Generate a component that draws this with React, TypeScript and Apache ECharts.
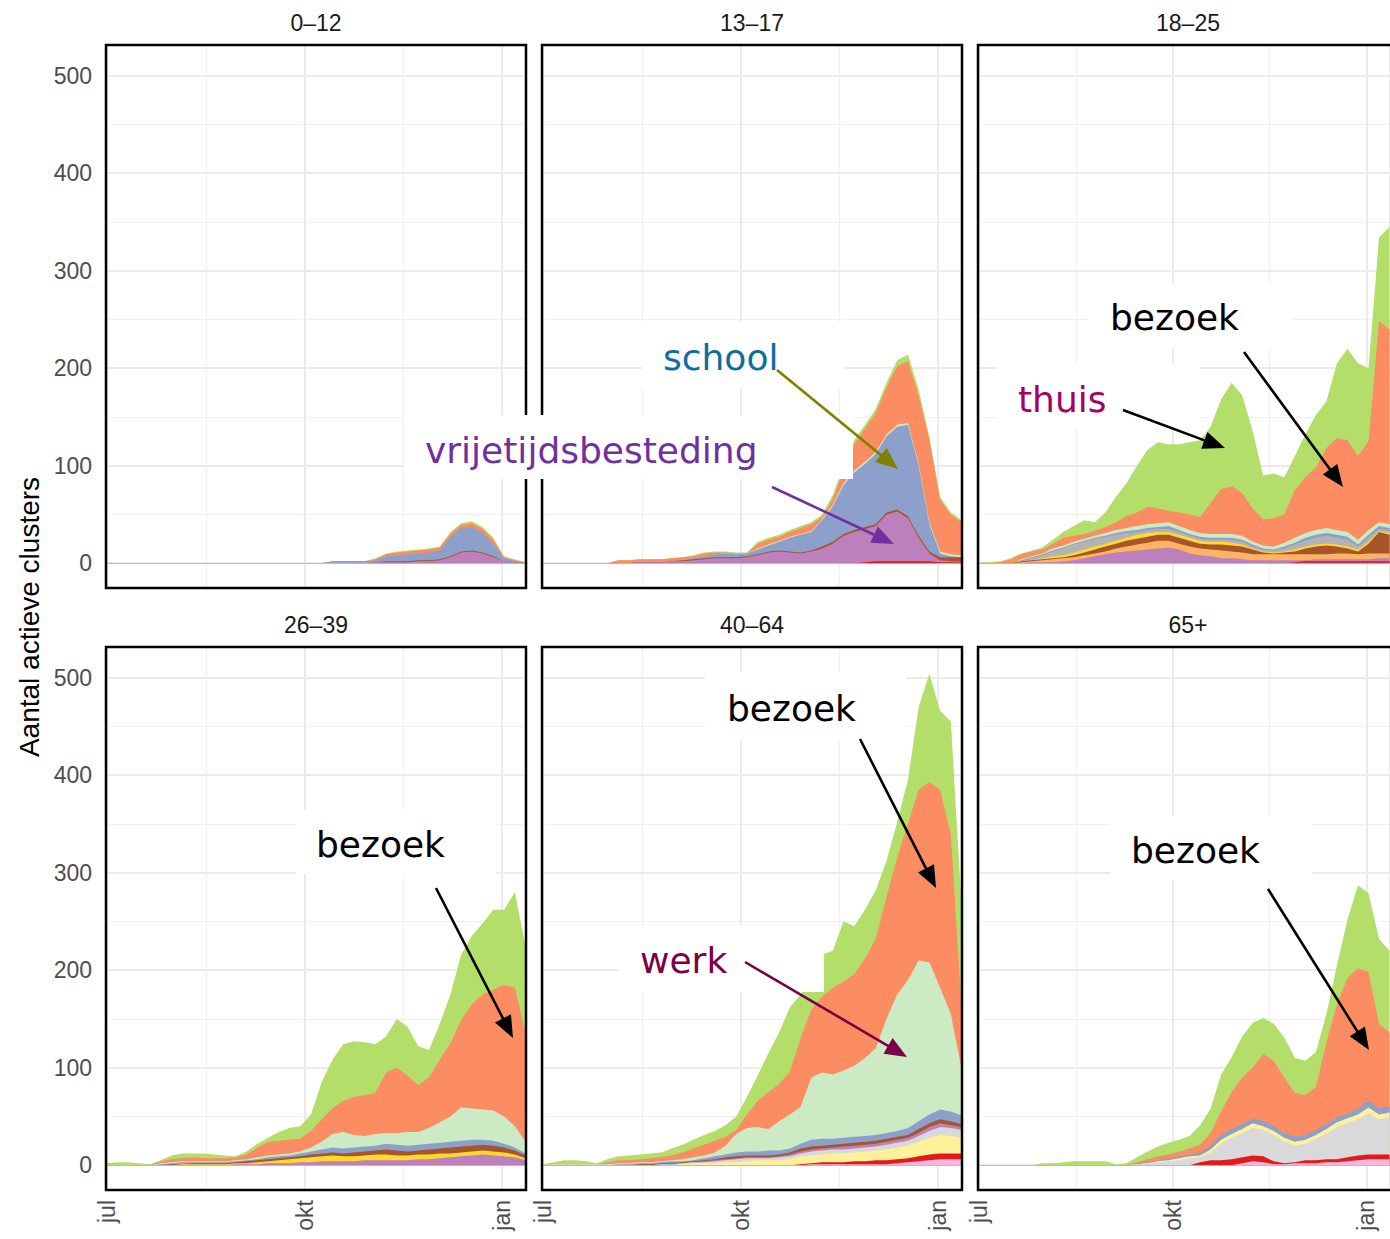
import React, { useEffect, useRef } from 'react';
import * as echarts from 'echarts';

// x values: days since 1 July
const DAYS = [0,5,10,15,20,25,30,35,40,45,50,55,60,65,70,75,80,85,90,95,100,105,110,115,120,125,130,135,140,145,150,155,160,165,170,175,180,185,190,195];
const X_TICK_DAYS = [0, 92, 184];
const X_TICK_LABELS = ['jul', 'okt', 'jan'];
const PANEL_TITLES = ['0–12', '13–17', '18–25', '26–39', '40–64', '65+'];
const Y_TITLE = 'Aantal actieve clusters';

// Cumulative stacked levels (top edge of each layer)
// 0–12
const p1_thuis = [0,0,0,0,0,0,0,0,0,0,0,0,0,0,0,0,0,0,0,0,0,2,2,2,2,5,10,12,13,14,15,17,32,41,43,37,26,7,4,1];
const p1_bezoek = [0,0,0,0,0,0,0,0,0,0,0,0,0,0,0,0,0,0,0,0,0,2,2,2,2,4,9,11,12,13,14,16,30,39,41,35,24,6,3,1];
const p1_school = [0,0,0,0,0,0,0,0,0,0,0,0,0,0,0,0,0,0,0,0,0,2,2,2,2,3,7,8,9,10,11,13,27,36,37,31,20,5,2,0];
const p1_sport = [0,0,0,0,0,0,0,0,0,0,0,0,0,0,0,0,0,0,0,0,0,0,0,0,0,1,2,2,2,3,3,4,7,12,13,11,7,2,1,0];
const p1_vrij = [0,0,0,0,0,0,0,0,0,0,0,0,0,0,0,0,0,0,0,0,0,0,0,0,0,1,1,1,1,2,2,3,6,11,12,10,6,2,1,0];

// 13–17
const p2_thuis = [0,0,0,0,0,0,0,3,3,4,4,4,5,6,8,11,12,12,11,11,22,26,29,34,38,42,50,70,100,126,142,158,185,208,214,178,130,68,52,44];
const p2_bezoek = [0,0,0,0,0,0,0,3,3,4,4,4,5,6,7,10,11,11,10,10,20,24,27,32,36,40,47,66,96,122,138,154,180,202,207,172,126,65,50,42];
const p2_werk = [0,0,0,0,0,0,0,0,0,0,0,0,0,3,5,7,9,10,9,10,15,19,23,27,30,33,45,60,82,95,104,114,132,142,144,102,42,12,9,8];
const p2_school = [0,0,0,0,0,0,0,0,0,0,0,0,0,3,5,7,9,10,9,10,14,18,22,26,29,32,44,58,80,93,102,112,130,140,142,100,40,10,7,6];
const p2_sport = [0,0,0,0,0,0,0,0,0,1,1,1,2,3,4,5,6,6,6,7,9,12,13,12,11,13,17,22,30,34,37,40,52,55,48,28,12,6,6,6];
const p2_vrij = [0,0,0,0,0,0,0,0,0,1,1,1,2,2,3,4,5,5,5,6,8,11,12,11,10,12,15,20,28,32,35,38,50,53,46,26,10,3,2,2];
const p2_ziekenhuis = [0,0,0,0,0,0,0,0,0,0,0,0,0,0,0,0,0,0,0,0,0,0,0,0,0,0,0,0,0,0,1,2,2,2,2,2,2,1,1,1];

// 18–25
const p3_thuis = [1,1,2,5,10,13,16,24,32,38,44,42,52,68,82,100,116,124,122,122,124,126,140,168,185,172,135,90,92,88,110,132,152,166,205,220,205,200,334,345];
const p3_bezoek = [0,0,1,4,9,12,14,20,26,28,30,33,37,42,48,52,58,56,54,52,50,47,62,76,79,72,56,45,46,50,75,88,98,118,128,126,110,125,248,240];
const p3_werk = [0,0,0,0,4,7,10,15,18,22,25,28,31,34,36,38,40,41,42,38,34,31,30,30,30,28,22,18,17,21,26,31,34,36,34,32,24,34,42,40];
const p3_school = [0,0,0,0,3,6,9,13,16,20,23,26,28,31,33,34,36,37,38,34,30,27,26,26,26,24,19,15,14,17,21,26,29,31,29,27,19,29,38,36];
const p3_student = [0,0,0,0,2,5,8,12,15,19,22,25,27,29,31,32,34,35,35,32,28,25,24,24,24,22,17,14,13,15,19,23,26,28,26,24,17,26,35,33];
const p3_horeca = [0,0,0,0,2,3,5,7,8,11,14,17,20,23,26,29,31,32,32,29,26,23,22,22,21,19,15,12,11,12,14,17,19,20,19,17,14,22,33,31];
const p3_sport = [0,0,0,0,2,3,4,5,6,8,11,14,17,20,23,25,27,29,29,26,23,20,19,19,18,17,14,11,10,11,12,15,17,18,17,15,12,20,32,29];
const p3_zorg = [0,0,0,0,1,2,3,4,5,6,8,10,12,15,17,19,21,23,23,20,17,15,14,13,12,11,9,9,9,9,9,9,9,9,10,10,9,10,10,10];
const p3_vrij = [0,0,0,0,0,1,1,1,2,3,5,7,9,11,12,13,14,15,16,14,10,8,7,5,5,4,3,3,3,3,3,3,4,4,4,4,4,4,5,5];
const p3_ziekenhuis = [0,0,0,0,0,0,0,0,0,0,0,0,0,0,0,0,0,0,0,0,0,0,0,0,0,0,0,0,0,0,1,2,2,2,2,2,2,2,2,2];

// 26–39
const p4_thuis = [2,3,3,2,1,5,10,12,12,12,11,10,9,14,22,28,34,38,40,52,85,108,124,127,126,124,132,150,142,122,118,145,175,216,235,248,262,262,280,224];
const p4_bezoek = [0,0,0,0,0,4,6,7,8,7,7,7,8,11,18,24,25,26,27,35,47,58,66,70,72,74,95,100,92,82,90,108,125,149,165,175,180,185,182,136];
const p4_werk = [0,0,0,0,0,2,3,4,4,4,4,4,5,6,8,10,11,12,14,18,24,32,34,31,30,32,33,33,34,34,38,44,50,59,58,57,56,50,40,24];
const p4_school = [0,0,0,0,0,1,2,3,3,3,3,3,4,5,6,8,9,10,12,14,16,18,17,18,19,20,22,21,20,21,22,23,24,25,26,26,25,22,18,12];
const p4_sport = [0,0,0,0,0,0,1,1,2,2,2,2,3,4,5,6,7,8,9,11,12,13,12,13,14,15,16,15,14,15,16,17,18,19,20,21,20,18,15,10];
const p4_horeca = [0,0,0,0,0,0,0,1,1,1,1,1,2,2,3,4,5,6,7,8,9,10,9,9,10,11,11,10,10,11,11,12,12,13,14,15,14,13,11,7];
const p4_vrij = [0,0,0,0,0,0,0,0,0,0,0,0,1,1,1,2,2,2,3,3,4,4,4,4,5,5,5,5,5,6,6,7,8,9,10,11,10,9,8,5];

// 40–64
const p5_thuis = [1,3,5,5,4,2,6,9,10,11,12,13,17,21,26,31,35,41,50,70,92,115,136,162,175,190,216,220,250,245,262,282,312,352,395,470,504,466,455,266];
const p5_bezoek = [0,1,1,1,1,1,3,5,5,6,7,8,10,13,17,21,25,29,36,52,66,75,83,96,130,160,173,182,188,196,212,232,275,315,350,385,393,385,340,161];
const p5_werk = [0,1,1,1,1,1,1,2,2,3,3,4,5,6,8,10,13,20,32,38,39,37,45,52,60,90,95,93,97,102,110,120,150,175,190,210,208,182,155,99];
const p5_school = [0,0,0,0,0,0,0,1,1,2,2,3,4,4,5,7,9,11,13,14,14,15,15,17,22,26,27,27,28,29,30,31,33,35,38,45,52,57,55,51];
const p5_sport = [0,0,0,0,0,0,0,0,0,1,1,2,2,3,4,5,6,8,9,10,10,10,11,13,17,19,20,21,22,23,24,25,27,29,31,37,43,47,45,42];
const p5_vrij = [0,0,0,0,0,0,0,0,0,0,0,1,1,2,3,4,5,6,7,8,8,8,9,11,14,16,17,18,19,20,21,22,24,26,28,33,39,43,41,39];
const p5_verpleeg = [0,0,0,0,0,0,0,0,0,0,0,1,1,2,3,3,4,5,6,7,7,7,8,9,12,14,15,16,16,17,18,19,21,23,25,30,35,39,38,36];
const p5_overig = [0,0,0,0,0,0,0,0,0,0,0,0,0,1,2,2,2,3,3,4,5,5,5,6,9,10,11,12,12,13,14,15,16,18,20,24,28,31,30,28];
const p5_ziekenhuis = [0,0,0,0,0,0,0,0,0,0,0,0,0,0,0,0,0,0,0,0,0,0,0,0,1,2,3,3,3,4,4,5,5,6,7,9,11,12,12,12];
const p5_gezondheid = [0,0,0,0,0,0,0,0,0,0,0,0,0,0,0,0,0,0,0,0,0,0,0,0,0,1,1,1,1,1,1,1,1,2,3,4,5,6,6,6];

// 65+
const p6_thuis = [0,0,0,0,0,0,2,2,3,4,4,4,4,1,2,8,14,19,23,26,30,41,58,93,111,132,146,151,145,131,110,107,116,155,205,252,287,279,232,220];
const p6_bezoek = [0,0,0,0,0,0,0,0,0,0,0,0,0,0,0,3,6,9,11,14,17,21,33,55,75,90,100,114,107,90,74,72,80,126,165,192,202,198,145,136];
const p6_school = [0,0,0,0,0,0,0,0,0,0,0,0,0,0,0,2,3,5,7,9,11,13,20,31,37,42,48,45,40,33,29,31,36,42,49,53,58,66,58,60];
const p6_overig = [0,0,0,0,0,0,0,0,0,0,0,0,0,0,0,1,2,4,5,7,9,10,16,26,32,37,43,40,35,28,24,26,31,37,44,48,52,59,52,54];
const p6_verpleeg = [0,0,0,0,0,0,0,0,0,0,0,0,0,0,0,1,2,3,4,5,7,8,13,22,28,33,38,36,31,24,20,22,27,32,39,43,47,53,47,49];
const p6_ziekenhuis = [0,0,0,0,0,0,0,0,0,0,0,0,0,0,0,0,0,0,0,0,0,3,5,5,6,8,10,9,4,2,3,5,5,6,6,8,10,11,11,11];
const p6_gezondheid = [0,0,0,0,0,0,0,0,0,0,0,0,0,0,0,0,0,0,0,0,0,0,0,0,0,2,4,3,1,1,2,2,2,3,3,4,5,6,6,6];

const COLORS: Record<string, string> = {
  thuis: '#b3de69',
  bezoek: '#fc8d62',
  werk: '#ccebc5',
  school: '#8da0cb',
  studentenhuis: '#b3b3b3',
  horeca: '#ffd92f',
  sport: '#a65628',
  zorg: '#fdb462',
  vrijetijdsbesteding: '#bc80bd',
  verpleeghuis: '#d9d9d9',
  overig: '#fff09a',
  ziekenhuis: '#e31a1c',
  gezondheidszorg: '#f7b6dc',
};

// layers ordered from top of stack to bottom
const PANELS: [string, number[]][][] = [
  [['thuis', p1_thuis], ['bezoek', p1_bezoek], ['school', p1_school], ['sport', p1_sport], ['vrijetijdsbesteding', p1_vrij]],
  [['thuis', p2_thuis], ['bezoek', p2_bezoek], ['werk', p2_werk], ['school', p2_school], ['sport', p2_sport], ['vrijetijdsbesteding', p2_vrij], ['ziekenhuis', p2_ziekenhuis]],
  [['thuis', p3_thuis], ['bezoek', p3_bezoek], ['werk', p3_werk], ['school', p3_school], ['studentenhuis', p3_student], ['horeca', p3_horeca], ['sport', p3_sport], ['zorg', p3_zorg], ['vrijetijdsbesteding', p3_vrij], ['ziekenhuis', p3_ziekenhuis]],
  [['thuis', p4_thuis], ['bezoek', p4_bezoek], ['werk', p4_werk], ['school', p4_school], ['sport', p4_sport], ['horeca', p4_horeca], ['vrijetijdsbesteding', p4_vrij]],
  [['thuis', p5_thuis], ['bezoek', p5_bezoek], ['werk', p5_werk], ['school', p5_school], ['sport', p5_sport], ['vrijetijdsbesteding', p5_vrij], ['verpleeghuis', p5_verpleeg], ['overig', p5_overig], ['ziekenhuis', p5_ziekenhuis], ['gezondheidszorg', p5_gezondheid]],
  [['thuis', p6_thuis], ['bezoek', p6_bezoek], ['school', p6_school], ['overig', p6_overig], ['verpleeghuis', p6_verpleeg], ['ziekenhuis', p6_ziekenhuis], ['gezondheidszorg', p6_gezondheid]],
];

const ANNOTATIONS = [
  { text: 'school', color: '#0b6e9c', box: [642, 322, 203, 66], tx: 663, ty: 357, arrow: [777, 370, 898, 469], arrowColor: '#7f7f00' },
  { text: 'vrijetijdsbesteding', color: '#7030a0', box: [404, 415, 449, 64], tx: 425, ty: 450, arrow: [772, 487, 894, 544], arrowColor: '#7030a0' },
  { text: 'thuis', color: '#a50065', box: [997, 364, 203, 65], tx: 1018, ty: 399, arrow: [1123, 410, 1225, 448], arrowColor: '#000000' },
  { text: 'bezoek', color: '#000000', box: [1088, 283, 204, 66], tx: 1110, ty: 317, arrow: [1244, 352, 1343, 487], arrowColor: '#000000' },
  { text: 'bezoek', color: '#000000', box: [296, 810, 200, 64], tx: 316, ty: 844, arrow: [436, 888, 513, 1038], arrowColor: '#000000' },
  { text: 'bezoek', color: '#000000', box: [705, 672, 201, 68], tx: 727, ty: 708, arrow: [860, 739, 936, 888], arrowColor: '#000000' },
  { text: 'werk', color: '#7b0046', box: [618, 926, 206, 66], tx: 640, ty: 960, arrow: [745, 962, 907, 1057], arrowColor: '#7b0046' },
  { text: 'bezoek', color: '#000000', box: [1110, 815, 202, 65], tx: 1131, ty: 850, arrow: [1268, 889, 1369, 1050], arrowColor: '#000000' },
];

const PANEL_LEFT = [106, 542, 978];
const PANEL_TOP = [45, 647];
const PANEL_W = 420;
const PANEL_H = 543;
const X_MIN = -0.5, X_MAX = 195.2;
const Y_MIN = -25.5, Y_MAX = 531.5;
const SANS = '"Liberation Sans", Arial, sans-serif';
const ANNO_FONT = '"DejaVu Sans", Verdana, sans-serif';

function arrowEls(x1: number, y1: number, x2: number, y2: number, color: string) {
  const dx = x2 - x1, dy = y2 - y1;
  const len = Math.hypot(dx, dy);
  const ux = dx / len, uy = dy / len;
  const L = 22, W = 9;
  const bx = x2 - ux * L, by = y2 - uy * L;
  return [
    { type: 'line', z: 102, shape: { x1, y1, x2: bx + ux * 3, y2: by + uy * 3 }, style: { stroke: color, lineWidth: 2.6 } },
    { type: 'polygon', z: 102, shape: { points: [[x2, y2], [bx - uy * W, by + ux * W], [bx + uy * W, by - ux * W]] }, style: { fill: color } },
  ];
}

export default function App() {
  const ref = useRef<HTMLDivElement>(null);
  useEffect(() => {
    if (!ref.current) return;
    const chart = echarts.init(ref.current, null, { renderer: 'svg' });
    const grid: any[] = [];
    const xAxis: any[] = [];
    const yAxis: any[] = [];
    const series: any[] = [];
    const graphic: any[] = [];

    PANELS.forEach((layers, i) => {
      const col = i % 3;
      const row = Math.floor(i / 3);
      const left = PANEL_LEFT[col];
      const top = PANEL_TOP[row];
      grid.push({ left, top, width: PANEL_W, height: PANEL_H, containLabel: false });
      // minor grid axis
      xAxis.push({
        gridIndex: i, type: 'value', min: X_MIN, max: X_MAX, minInterval: 46, maxInterval: 46, position: 'bottom',
        axisLine: { show: false }, axisTick: { show: false }, axisLabel: { show: false },
        splitLine: { show: true, lineStyle: { color: '#f0f0f0', width: 1.2 } },
      });
      // major axis with labels
      xAxis.push({
        gridIndex: i, type: 'value', min: X_MIN, max: X_MAX, minInterval: 92, maxInterval: 92, position: 'bottom',
        axisLine: { show: false }, axisTick: { show: false },
        axisLabel: {
          show: row === 1, rotate: 90, margin: 10, fontSize: 23, color: '#4d4d4d', fontFamily: SANS,
          showMinLabel: false, showMaxLabel: false,
          formatter: (v: number) => {
            const k = X_TICK_DAYS.findIndex((d) => Math.abs(d - v) < 0.01);
            return k >= 0 ? X_TICK_LABELS[k] : '';
          },
        },
        splitLine: { show: true, lineStyle: { color: '#ebebeb', width: 2 } },
      });
      yAxis.push({
        gridIndex: i, type: 'value', min: Y_MIN, max: Y_MAX, minInterval: 50, maxInterval: 50, position: 'left',
        axisLine: { show: false }, axisTick: { show: false }, axisLabel: { show: false },
        splitLine: { show: true, lineStyle: { color: '#f0f0f0', width: 1.2 } },
      });
      yAxis.push({
        gridIndex: i, type: 'value', min: Y_MIN, max: Y_MAX, minInterval: 100, maxInterval: 100, position: 'left',
        axisLine: { show: false }, axisTick: { show: false },
        axisLabel: {
          show: col === 0, margin: 14, fontSize: 23, color: '#4d4d4d', fontFamily: SANS,
          showMinLabel: false, showMaxLabel: false,
          formatter: (v: number) => (Math.abs(v % 100) < 0.01 ? String(Math.round(v)) : ''),
        },
        splitLine: { show: true, lineStyle: { color: '#ebebeb', width: 2 } },
      });

      layers.forEach(([key, vals], li) => {
        const s: any = {
          type: 'line', name: key, xAxisIndex: 2 * i + 1, yAxisIndex: 2 * i + 1,
          data: DAYS.map((d, k) => [d, vals[k]]),
          symbol: 'none', showSymbol: false, silent: true,
          lineStyle: { width: 0, color: COLORS[key] },
          itemStyle: { color: COLORS[key] },
          areaStyle: { color: COLORS[key], opacity: 1 },
        };
        if (li === layers.length - 1) {
          s.markLine = {
            silent: true, symbol: ['none', 'none'], label: { show: false },
            lineStyle: { color: '#e9a3b3', width: 1.2, type: 'solid' },
            data: [{ yAxis: 0 }],
          };
        }
        series.push(s);
      });

      graphic.push({
        type: 'rect', z: 50, shape: { x: left, y: top, width: PANEL_W, height: PANEL_H },
        style: { fill: 'none', stroke: '#000000', lineWidth: 2.5 },
      });
      graphic.push({
        type: 'text', z: 50, x: left + PANEL_W / 2, y: top - 22,
        style: { text: PANEL_TITLES[i], fontSize: 23, fontFamily: SANS, fill: '#1a1a1a', align: 'center', verticalAlign: 'middle' },
      });
    });

    graphic.push({
      type: 'text', z: 50, x: 29, y: 617, rotation: Math.PI / 2,
      style: { text: Y_TITLE, fontSize: 28, fontFamily: SANS, fill: '#000000', align: 'center', verticalAlign: 'middle' },
    });

    ANNOTATIONS.forEach((a) => {
      graphic.push({
        type: 'rect', z: 100, shape: { x: a.box[0], y: a.box[1], width: a.box[2], height: a.box[3] },
        style: { fill: '#ffffff', stroke: 'none' },
      });
      graphic.push({
        type: 'text', z: 101, x: a.tx, y: a.ty,
        style: { text: a.text, fontSize: 36, fontFamily: ANNO_FONT, fill: a.color, align: 'left', verticalAlign: 'middle' },
      });
      arrowEls(a.arrow[0], a.arrow[1], a.arrow[2], a.arrow[3], a.arrowColor).forEach((e) => graphic.push(e));
    });

    chart.setOption({
      animation: false,
      backgroundColor: '#ffffff',
      grid, xAxis, yAxis, series,
      graphic: { elements: graphic },
    });
    return () => chart.dispose();
  }, []);
  return <div ref={ref} style={{ position: 'absolute', left: 0, top: 0, width: 1390, height: 1239 }} />;
}
